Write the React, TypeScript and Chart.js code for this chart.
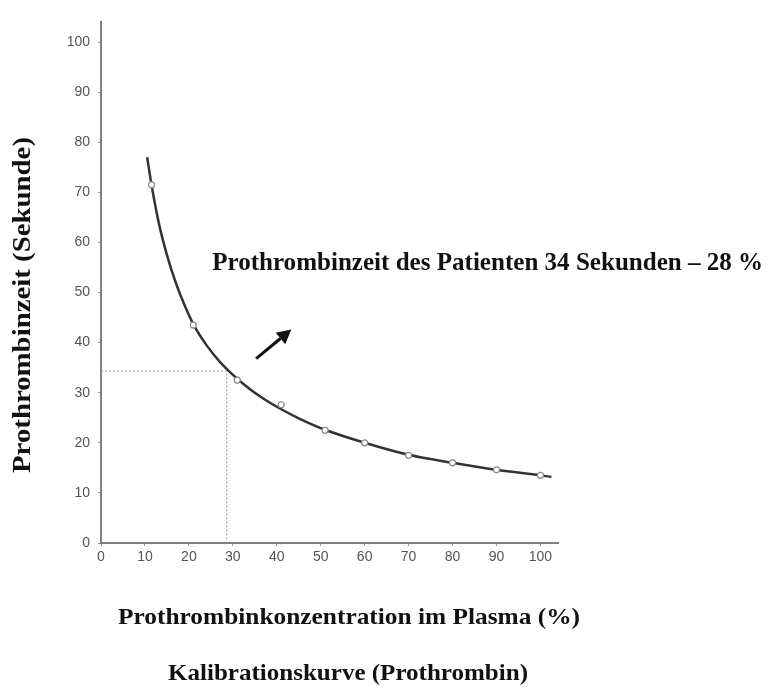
import React, { useEffect, useRef } from "react";
import { Chart, registerables } from "chart.js";

Chart.register(...registerables);

// ---- data ----
const concentration = [11.5, 21, 31, 41, 51, 60, 70, 80, 90, 100];
const seconds = [71.5, 43.5, 32.5, 27.6, 22.5, 20, 17.5, 16, 14.6, 13.5];
const curveX = [10.5, 11.5, 13, 15, 17, 19, 21, 24, 27, 29, 31, 35, 40, 45, 51, 60, 70, 80, 90, 100, 102.5];
const curveY = [77, 71.5, 64.5, 57.5, 52, 47.5, 43.7, 39.5, 36.2, 34.4, 32.8, 30, 27.2, 24.9, 22.6, 20, 17.6, 16, 14.6, 13.5, 13.2];
const patientConc = 28.6;
const patientTime = 34.3;
const arrowFrom = [35.3, 36.8];
const arrowTo = [43.3, 42.6];
const annotationPos = [25.3, 55.8];
const xTickValues = [0, 10, 20, 30, 40, 50, 60, 70, 80, 90, 100];
const yTickValues = [0, 10, 20, 30, 40, 50, 60, 70, 80, 90, 100];
const annotationText = "Prothrombinzeit des Patienten 34 Sekunden \u2013 28 %";
const yTitle = "Prothrombinzeit (Sekunde)";
const xTitle = "Prothrombinkonzentration im Plasma (%)";
const bottomTitle = "Kalibrationskurve (Prothrombin)";

const SERIF = "'Liberation Serif', 'Times New Roman', serif";
const SANS = "'Liberation Sans', Arial, sans-serif";

// draws text starting at `left`, vertically centred on `cy`, squeezed/stretched to `width`
function drawFitted(ctx: CanvasRenderingContext2D, text: string, left: number, cy: number, width: number) {
  const w0 = ctx.measureText(text).width;
  ctx.save();
  ctx.textAlign = "left";
  ctx.textBaseline = "middle";
  ctx.translate(left, cy);
  ctx.scale(width / w0, 1);
  ctx.fillText(text, 0, 0);
  ctx.restore();
}

const decorations = {
  id: "decorations",
  afterDatasetsDraw(chart: any) {
    const ctx: CanvasRenderingContext2D = chart.ctx;
    const xs = chart.scales.x;
    const ys = chart.scales.y;
    ctx.save();
    // arrow
    const x1 = xs.getPixelForValue(arrowFrom[0]);
    const y1 = ys.getPixelForValue(arrowFrom[1]);
    const x2 = xs.getPixelForValue(arrowTo[0]);
    const y2 = ys.getPixelForValue(arrowTo[1]);
    const ang = Math.atan2(y2 - y1, x2 - x1);
    const head = 14;
    const bx = x2 - head * Math.cos(ang);
    const by = y2 - head * Math.sin(ang);
    ctx.strokeStyle = "#111";
    ctx.fillStyle = "#111";
    ctx.lineWidth = 3;
    ctx.beginPath();
    ctx.moveTo(x1, y1);
    ctx.lineTo(bx, by);
    ctx.stroke();
    ctx.beginPath();
    ctx.moveTo(x2, y2);
    ctx.lineTo(bx + 7.5 * Math.cos(ang + Math.PI / 2), by + 7.5 * Math.sin(ang + Math.PI / 2));
    ctx.lineTo(bx + 7.5 * Math.cos(ang - Math.PI / 2), by + 7.5 * Math.sin(ang - Math.PI / 2));
    ctx.closePath();
    ctx.fill();

    // annotation text
    ctx.fillStyle = "#111";
    ctx.font = "bold 25px " + SERIF;
    drawFitted(ctx, annotationText, xs.getPixelForValue(annotationPos[0]), ys.getPixelForValue(annotationPos[1]), 551);

    // axis titles
    ctx.font = "bold 24px " + SERIF;
    drawFitted(ctx, xTitle, 118, 618, 462);
    drawFitted(ctx, bottomTitle, 168, 674, 360);

    ctx.save();
    ctx.translate(24, 305);
    ctx.rotate(-Math.PI / 2);
    ctx.font = "bold 25px " + SERIF;
    drawFitted(ctx, yTitle, -168, 0, 336);
    ctx.restore();
    ctx.restore();
  },
};

export default function App() {
  const ref = useRef<HTMLCanvasElement | null>(null);
  useEffect(() => {
    if (!ref.current) return;
    const chart = new Chart(ref.current, {
      type: "scatter",
      data: {
        datasets: [
          {
            label: "Messpunkte",
            data: concentration.map((x, i) => ({ x, y: seconds[i] })),
            pointRadius: 3,
            pointBackgroundColor: "#ffffff",
            pointBorderColor: "#8a8a8a",
            pointBorderWidth: 1.2,
            showLine: false,
            order: 0,
          },
          {
            label: "Kalibrationskurve",
            data: curveX.map((x, i) => ({ x, y: curveY[i] })),
            showLine: true,
            borderColor: "#333333",
            borderWidth: 2.5,
            pointRadius: 0,
            cubicInterpolationMode: "monotone",
            order: 1,
          },
          {
            label: "Patient",
            data: [
              { x: 0, y: patientTime },
              { x: patientConc, y: patientTime },
              { x: patientConc, y: 0 },
            ],
            showLine: true,
            borderColor: "#9a9a9a",
            borderWidth: 1,
            borderDash: [2, 2],
            pointRadius: 0,
            order: 2,
          },
        ],
      },
      options: {
        responsive: false,
        animation: false,
        layout: { padding: { top: 22, right: 211, left: 0, bottom: 0 } },
        plugins: { legend: { display: false }, tooltip: { enabled: false } },
        scales: {
          x: {
            type: "linear",
            min: 0,
            max: 104,
            afterFit: (s: any) => { s.height = 152; },
            afterBuildTicks: (s: any) => { s.ticks = xTickValues.map((v) => ({ value: v })); },
            ticks: { color: "#555", font: { family: SANS, size: 14 }, padding: 3 },
            grid: { display: true, drawOnChartArea: false, drawTicks: true, tickLength: 3, color: "#999" },
            border: { display: true, color: "#808080", width: 2 },
          },
          y: {
            type: "linear",
            min: 0,
            max: 104,
            afterFit: (s: any) => { s.width = 101; },
            afterBuildTicks: (s: any) => { s.ticks = yTickValues.map((v) => ({ value: v })); },
            ticks: { color: "#555", font: { family: SANS, size: 14 }, padding: 8 },
            grid: { display: true, drawOnChartArea: false, drawTicks: true, tickLength: 3, color: "#999" },
            border: { display: true, color: "#808080", width: 2 },
          },
        },
      },
      plugins: [decorations],
    } as any);
    return () => chart.destroy();
  }, []);
  return (
    <div style={{ position: "absolute", left: 0, top: 0, width: 769, height: 695, background: "#fff" }}>
      <canvas ref={ref} width={769} height={695} style={{ width: 769, height: 695, display: "block" }} />
    </div>
  );
}
